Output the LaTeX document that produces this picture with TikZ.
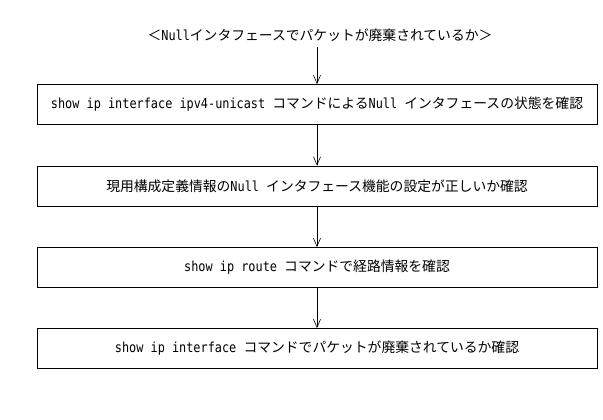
\documentclass[tikz,border=0pt]{standalone}
\usepackage{fontspec}
\setmainfont{Noto Sans CJK JP}
\newfontfamily\en[FakeStretch=0.86]{DejaVu Sans Mono}
\usetikzlibrary{arrows.meta}
\begin{document}
\begin{tikzpicture}[x=1pt,y=-1pt,
  stepbox/.style={draw,line width=0.8pt,minimum width=560pt,minimum height=40pt,inner sep=0pt,font=\fontsize{13.8}{15}\selectfont},
  conn/.style={line width=0.6pt,-{Straight Barb[length=8pt,width=7pt,line width=0.6pt]}}]
\useasboundingbox (0,0) rectangle (603,420);
\node[font=\fontsize{13.8}{15}\selectfont] (t) at (320,35) {＜{\en Null}インタフェースでパケットが廃棄されているか＞};
\node[stepbox] (b1) at (317,104.5) {{\en show ip interface ipv4-unicast }コマンドによる{\en Null }インタフェースの状態を確認};
\node[stepbox] (b2) at (317,186) {現用構成定義情報の{\en Null }インタフェース機能の設定が正しいか確認};
\node[stepbox] (b3) at (317,267.5) {{\en show ip route }コマンドで経路情報を確認};
\node[stepbox] (b4) at (317,348.5) {{\en show ip interface }コマンドでパケットが廃棄されているか確認};
\coordinate (s) at (317,47);
\draw[conn] (s) -- (b1.north);
\draw[conn] (b1.south) -- (b2.north);
\draw[conn] (b2.south) -- (b3.north);
\draw[conn] (b3.south) -- (b4.north);
\end{tikzpicture}
\end{document}
